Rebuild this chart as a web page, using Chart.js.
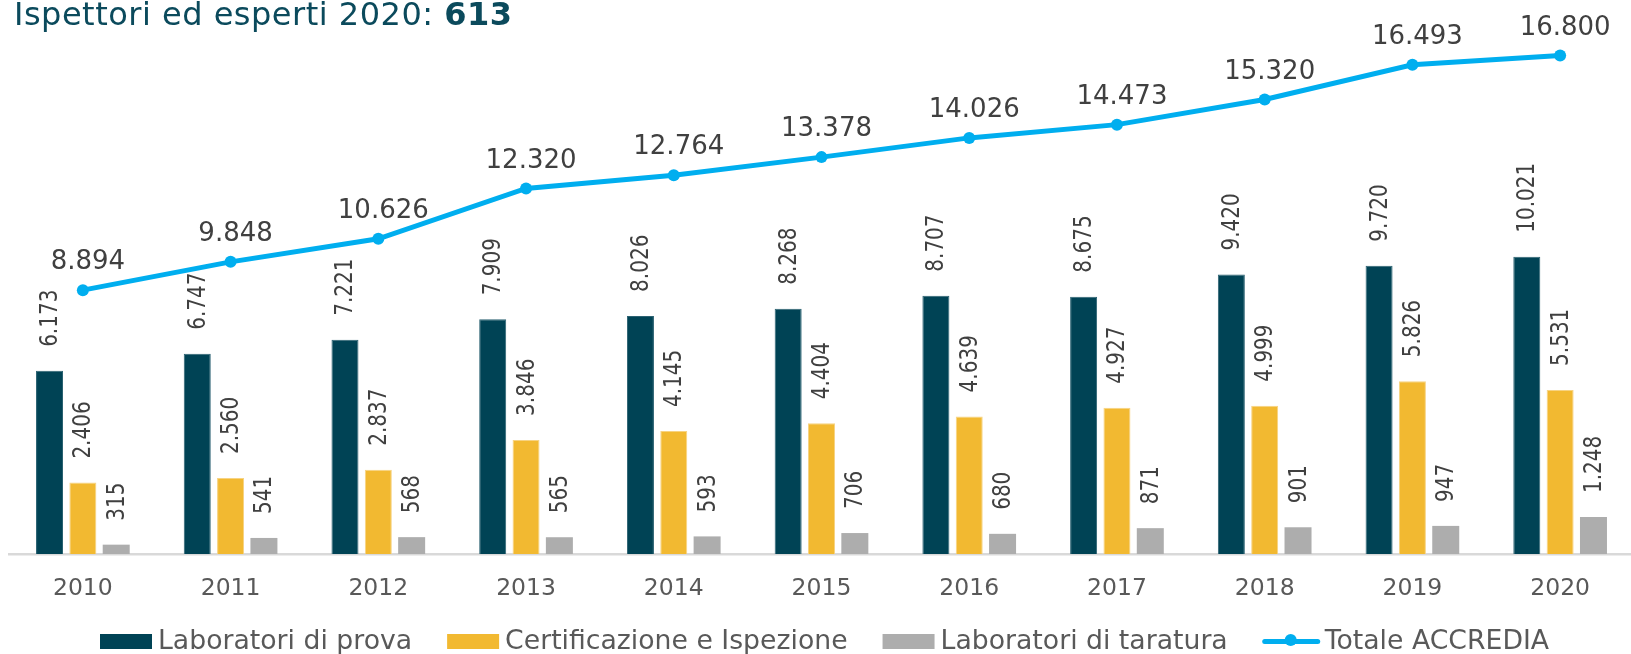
<!DOCTYPE html>
<html><head><meta charset="utf-8">
<script src="https://cdn.jsdelivr.net/npm/chart.js@4.4.1/dist/chart.umd.min.js"></script>
<style>
html,body{margin:0;padding:0;background:#fff;overflow:hidden;width:1631px;height:654px;}
#wrap{position:absolute;left:0;top:0;width:1640px;height:654px;}
#title{position:absolute;left:14px;top:-4px;font-family:"DejaVu Sans";font-size:32px;letter-spacing:0.5px;line-height:37px;color:#0b4a5c;white-space:nowrap;z-index:2}
#title b{font-weight:bold;}
</style></head><body>
<div id="wrap"><canvas id="c" width="1640" height="654"></canvas></div>
<div id="title">Ispettori ed esperti 2020: <b>613</b></div>
<script>
const categories = ['2010','2011','2012','2013','2014','2015','2016','2017','2018','2019','2020'];
const laboratoriProva = [6173, 6747, 7221, 7909, 8026, 8268, 8707, 8675, 9420, 9720, 10021];
const certificazioneIspezione = [2406, 2560, 2837, 3846, 4145, 4404, 4639, 4927, 4999, 5826, 5531];
const laboratoriTaratura = [315, 541, 568, 565, 593, 706, 680, 871, 901, 947, 1248];
const totaleAccredia = [8894, 9848, 10626, 12320, 12764, 13378, 14026, 14473, 15320, 16493, 16800];
const seriesNames = ['Laboratori di prova', 'Certificazione e Ispezione', 'Laboratori di taratura', 'Totale ACCREDIA'];

const FONT = '"DejaVu Sans"';
const fmt = v => String(v).replace(/\B(?=(\d{3})+(?!\d))/g, '.');

const valuePlugin = {
  id: 'vals',
  afterDatasetsDraw(chart) {
    const ctx = chart.ctx;
    chart.data.datasets.forEach((ds, i) => {
      const meta = chart.getDatasetMeta(i);
      meta.data.forEach((el, j) => {
        const txt = fmt(ds.data[j]);
        ctx.save();
        ctx.fillStyle = '#404040';
        if (ds.type === 'line') {
          ctx.font = '26px ' + FONT;
          ctx.textAlign = 'center';
          ctx.textBaseline = 'alphabetic';
          ctx.fillText(txt, el.x + 5, el.y - 21);
        } else {
          ctx.translate(el.x + 1, el.y - 24);
          ctx.rotate(-Math.PI / 2);
          ctx.scale(0.8, 1);
          ctx.font = '25px ' + FONT;
          ctx.textAlign = 'left';
          ctx.textBaseline = 'middle';
          ctx.fillText(txt, 0, 0);
        }
        ctx.restore();
      });
    });
  }
};

const legendPlugin = {
  id: 'customLegend',
  afterDraw(chart) {
    const ctx = chart.ctx;
    ctx.save();
    ctx.font = '26.7px ' + FONT;
    ctx.textBaseline = 'alphabetic';
    ctx.textAlign = 'left';
    let x = 100;
    chart.data.datasets.forEach((ds) => {
      if (ds.type === 'line') {
        ctx.strokeStyle = ds.borderColor;
        ctx.lineWidth = 5;
        ctx.lineCap = 'round';
        ctx.beginPath();
        ctx.moveTo(x + 2, 641.5);
        ctx.lineTo(x + 55, 641.5);
        ctx.stroke();
        ctx.fillStyle = ds.borderColor;
        ctx.beginPath();
        ctx.arc(x + 28, 640, 6, 0, Math.PI * 2);
        ctx.fill();
        x += 62;
      } else {
        ctx.fillStyle = ds.backgroundColor;
        ctx.fillRect(x, 634, 52, 15);
        x += 58;
      }
      ctx.fillStyle = '#595959';
      ctx.fillText(ds.label, x, 649);
      x += ctx.measureText(ds.label).width + 35;
    });
    ctx.restore();
  }
};

new Chart(document.getElementById('c'), {
  data: {
    labels: categories,
    datasets: [
      { type: 'bar', label: seriesNames[0], data: laboratoriProva, backgroundColor: '#004355', borderColor: '#2b6272', borderWidth: 1, order: 1 },
      { type: 'bar', label: seriesNames[1], data: certificazioneIspezione, backgroundColor: '#F2B931', borderColor: '#f7d382', borderWidth: 1, order: 1 },
      { type: 'bar', label: seriesNames[2], data: laboratoriTaratura, backgroundColor: '#ADADAD', borderWidth: 0, order: 1 },
      { type: 'line', label: seriesNames[3], data: totaleAccredia, borderColor: '#00AEEF', backgroundColor: '#00AEEF',
        borderWidth: 5, pointRadius: 6, pointBorderWidth: 0, pointBackgroundColor: '#00AEEF', tension: 0, order: 0 }
    ]
  },
  options: {
    responsive: false,
    animation: false,
    events: [],
    layout: { padding: { top: 20, left: 9, right: 6, bottom: 52 } },
    datasets: { bar: { categoryPercentage: 0.677, barPercentage: 0.81 } },
    plugins: { legend: { display: false }, title: { display: false }, tooltip: { enabled: false } },
    scales: {
      x: {
        grid: { display: false, drawTicks: false },
        border: { display: true, color: '#d9d9d9', width: 2.5 },
        ticks: { font: { family: 'DejaVu Sans', size: 23.5 }, color: '#595959', padding: 21 },
        afterFit: s => { s.height = 48; }
      },
      y: { display: false, min: 0, max: 18000 }
    }
  },
  plugins: [valuePlugin, legendPlugin]
});
</script>
</body></html>
